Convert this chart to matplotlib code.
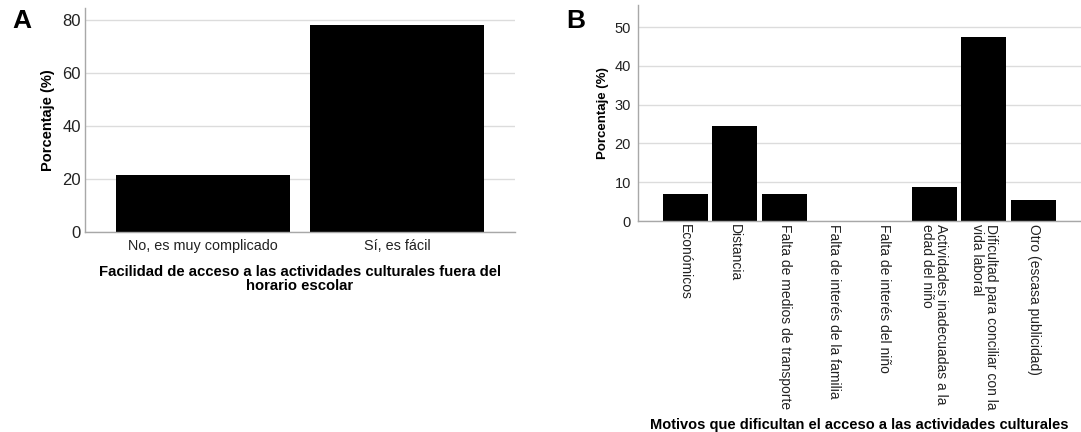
import matplotlib.pyplot as plt
import numpy as np

plt.rcParams['font.family'] = ['Liberation Sans', 'DejaVu Sans']

# panel A: ease of access
acceso_cats = ['No, es muy complicado', 'Sí, es fácil']
acceso_pct = [21.7, 78.3]

# panel B: reasons
motivos_cats = ['Económicos', 'Distancia', 'Falta de medios de transporte',
                'Falta de interés de la familia', 'Falta de interés del niño',
                'Actividades inadecuadas a la\nedad del niño',
                'Dificultad para conciliar con la\nvida laboral',
                'Otro (escasa publicidad)']
motivos_pct = [7.0, 24.6, 7.0, 0, 0, 8.8, 47.4, 5.3]

grid_col = '#dcdcdc'
spine_col = '#a8a8a8'


def style_axes(ax, ticks):
    ax.set_yticks(ticks)
    ax.yaxis.grid(True, color=grid_col, linewidth=1)
    ax.set_axisbelow(True)
    for s in ['top', 'right']:
        ax.spines[s].set_visible(False)
    for s in ['left', 'bottom']:
        ax.spines[s].set_color(spine_col)
        ax.spines[s].set_linewidth(1)
    ax.tick_params(length=0, colors='#222222')


fig = plt.figure(figsize=(10.81, 4.32), dpi=100)

# ---- A ----
axA = fig.add_axes([0.0786, 0.463, 0.3978, 0.518])
xa = np.arange(len(acceso_cats))
axA.bar(xa, acceso_pct, width=0.9, color='black')
axA.set_xlim(-0.61, 1.61)
axA.set_ylim(0, 84.5)
style_axes(axA, [0, 20, 40, 60, 80])
axA.set_xticks(xa)
axA.set_xticklabels(acceso_cats, fontsize=10.4)
axA.tick_params(axis='y', labelsize=12, pad=3)
axA.tick_params(axis='x', pad=5)
axA.set_ylabel('Porcentaje (%)', fontsize=10.5, fontweight='bold', labelpad=5)
axA.set_xlabel('Facilidad de acceso a las actividades culturales fuera del\nhorario escolar',
               fontsize=10.7, fontweight='bold', labelpad=9, linespacing=1.0)
fig.text(0.011, 0.935, 'A', fontsize=19, fontweight='bold')

# ---- B ----
axB = fig.add_axes([0.590, 0.4884, 0.41, 0.5])
xb = np.arange(len(motivos_cats))
axB.bar(xb, motivos_pct, width=0.9, color='black')
axB.set_xlim(-0.95, 7.95)
axB.set_ylim(0, 55.7)
style_axes(axB, [0, 10, 20, 30, 40, 50])
axB.set_xticks(xb)
axB.set_xticklabels(motivos_cats, rotation=-90, ha='center', va='top',
                    multialignment='left', fontsize=10, linespacing=1.0)
axB.tick_params(axis='y', labelsize=10.5, pad=5)
axB.tick_params(axis='x', pad=2)
axB.set_ylabel('Porcentaje (%)', fontsize=9.5, fontweight='bold', labelpad=4)
axB.set_xlabel('Motivos que dificultan el acceso a las actividades culturales',
               fontsize=10.5, fontweight='bold', labelpad=6)
fig.text(0.524, 0.935, 'B', fontsize=19, fontweight='bold')

fig.savefig('out.png', dpi=100)
